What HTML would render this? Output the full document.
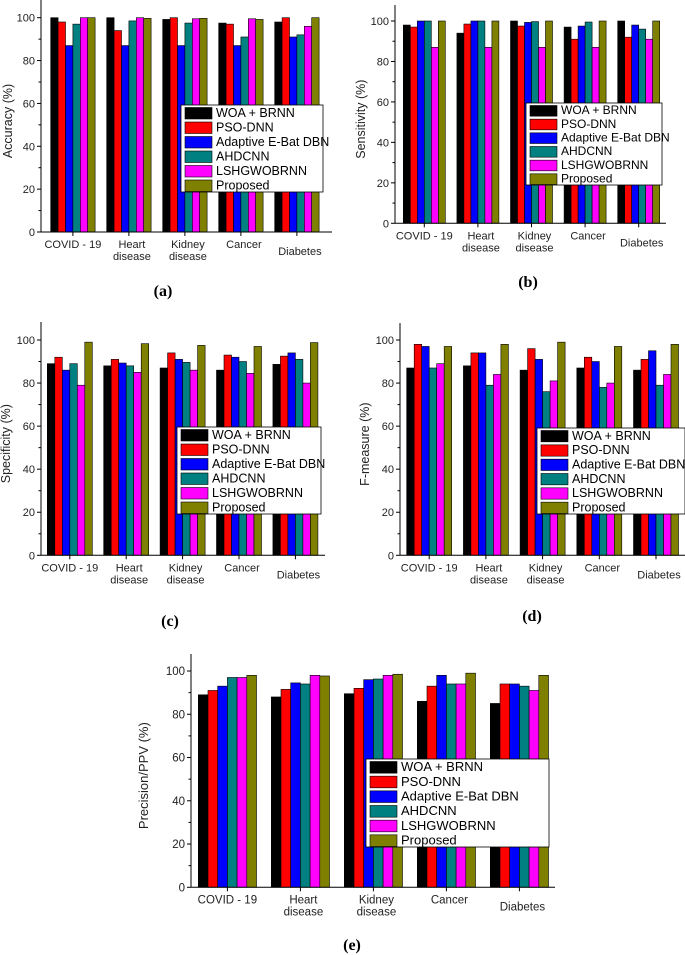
<!DOCTYPE html>
<html><head><meta charset="utf-8"><style>
html,body{margin:0;padding:0;background:#fff;}
svg{display:block;font-family:"Liberation Sans",Arial,sans-serif;}
</style></head><body>
<svg id="fig" width="685" height="955" viewBox="0 0 685 955" xmlns="http://www.w3.org/2000/svg"></svg>
<script>
const categories = ["COVID - 19", "Heart disease", "Kidney disease", "Cancer", "Diabetes"];
const seriesNames = ["WOA + BRNN", "PSO-DNN", "Adaptive E-Bat DBN", "AHDCNN", "LSHGWOBRNN", "Proposed"];
const yTicks = [0, 20, 40, 60, 80, 100];
// values per series (rows) across categories (columns)
const accuracyValues = [
  [100, 100, 99.2, 97.5, 98],
  [98, 94, 100, 97, 100],
  [87, 87, 87, 87, 91],
  [97, 98.5, 97.5, 91, 92],
  [100, 100, 99.5, 99.5, 96],
  [100, 99.7, 99.7, 99.2, 100]
];
const sensitivityValues = [
  [98, 94, 100, 97, 100],
  [97, 98.5, 97.5, 91, 92],
  [100, 100, 99.3, 97.5, 98],
  [100, 100, 99.7, 99.5, 96],
  [87, 87, 87, 87, 91],
  [100, 100, 100, 100, 100]
];
const specificityValues = [
  [89, 88, 87, 86, 88.7],
  [92, 91, 94, 93, 92.5],
  [86, 89.3, 91, 92, 94],
  [89, 88, 89.6, 90, 91],
  [79, 85, 86, 84.5, 80],
  [99, 98.3, 97.5, 97, 98.8]
];
const fmeasureValues = [
  [87, 88, 86, 87, 86],
  [98, 94, 96, 92, 91],
  [97, 94, 91, 90, 95],
  [87, 79, 76, 78, 79],
  [89, 84, 81, 80, 84],
  [97, 98, 99, 97, 98]
];
const precisionValues = [
  [89, 88, 89.5, 86, 85],
  [91, 91.5, 92, 93, 94],
  [93, 94.5, 96, 98, 94],
  [97, 94, 96.3, 94, 93],
  [97, 98, 98, 94, 91],
  [98, 97.7, 98.5, 99, 98]
];
const colors = ["#000000", "#ff0000", "#0000ff", "#008080", "#ff00ff", "#808000"];

const NS = "http://www.w3.org/2000/svg";
const svg = document.getElementById("fig");
function mk(tag, attrs, parent) {
  const e = document.createElementNS(NS, tag);
  for (const k in attrs) e.setAttribute(k, attrs[k]);
  (parent || svg).appendChild(e);
  return e;
}

const panels = [
  {id:"a", data:accuracyValues, ylabel:"Accuracy (%)", ax:41, y0:232, y100:17.7, top:0, right:332, first:50.7, spacing:56, bw:7.4,
   leg:[181,105,142,87], cap:[163,296], fs:11, lfs:12.5, ylx:12},
  {id:"b", data:sensitivityValues, ylabel:"Sensitivity (%)", ax:395, y0:223.3, y100:21, top:5, right:666, first:403.3, spacing:53.6, bw:7,
   leg:[526,103,136,82], cap:[528,287], fs:11, lfs:12, ylx:365},
  {id:"c", data:specificityValues, ylabel:"Specificity (%)", ax:41, y0:555.3, y100:340, top:322, right:325, first:47.3, spacing:56.4, bw:7.5,
   leg:[177,427,144,87], cap:[170,626], fs:11, lfs:12.5, ylx:10},
  {id:"d", data:fmeasureValues, ylabel:"F-measure (%)", ax:400, y0:555.3, y100:340, top:323, right:685, first:406.7, spacing:56.7, bw:7.5,
   leg:[537,428,148,86], cap:[532,621], fs:11, lfs:12.5, ylx:369},
  {id:"e", data:precisionValues, ylabel:"Precision/PPV (%)", ax:191, y0:887.3, y100:671, top:654, right:555, first:198.3, spacing:73, bw:9.7,
   leg:[366,759,183,88], cap:[352,950], fs:11.5, lfs:13, ylx:148}
];

panels.forEach(p => {
  const g = mk("g", {});
  
  
  const y = v => p.y0 - (p.y0 - p.y100) * v / 100;
  const gx = i => p.first + i * p.spacing;
  p.data.forEach((series, s) => {
    series.forEach((v, c) => {
      const r = mk("rect", {x: gx(c) + s * p.bw, y: y(v), width: p.bw, height: p.y0 - y(v),
        fill: colors[s], stroke: "#000", "stroke-width": 0.6}, g);
      
      
    });
  });
  const ya = mk("line", {x1:p.ax, y1:p.top, x2:p.ax, y2:p.y0, stroke:"#000", "stroke-width":1}, g);
  
  
  const xa = mk("line", {x1:p.ax, y1:p.y0, x2:p.right, y2:p.y0, stroke:"#000", "stroke-width":1}, g);
  
  
  for (let v = 0; v <= 100; v += 10) {
    const major = v % 20 === 0;
    mk("line", {x1:p.ax - (major ? 4 : 2.5), y1:y(v), x2:p.ax, y2:y(v), stroke:"#000", "stroke-width":1}, g);
  }
  yTicks.forEach(v => {
    const t = mk("text", {x:p.ax - 6, y:y(v) + 4, "text-anchor":"end", "font-size":p.fs, fill:"#222"}, g);
    t.textContent = v;
    
    
  });
  const yl = mk("text", {x:0, y:0, "text-anchor":"middle", "font-size":p.fs + 1.5, fill:"#222",
    transform:"translate(" + p.ylx + "," + ((p.top + p.y0) / 2 + 5) + ") rotate(-90)"}, g);
  yl.textContent = p.ylabel;
  
  
  categories.forEach((c, i) => {
    const cx = gx(i) + 3 * p.bw;
    mk("line", {x1:cx, y1:p.y0, x2:cx, y2:p.y0 + 4, stroke:"#000", "stroke-width":1}, g);
    const words = c === "Heart disease" || c === "Kidney disease" ? c.split(" ") : [c];
    const dy = c === "Diabetes" ? 7 : 0;
    words.forEach((w, k) => {
      const t = mk("text", {x:cx + (i === 0 ? 0 : 3), y:p.y0 + 16 + dy + k * 12, "text-anchor":"middle", "font-size":p.fs, fill:"#222"}, g);
      t.textContent = w;
      
      
    });
  });
  const [lx, ly, lw, lh] = p.leg;
  const lg = mk("g", {}, g);
  
  
  mk("rect", {x:lx, y:ly, width:lw, height:lh, fill:"#fff", stroke:"#000", "stroke-width":0.8}, lg);
  const rh = lh / 6;
  seriesNames.forEach((n, s) => {
    const e = mk("g", {}, lg);
    
    
    mk("rect", {x:lx + 4, y:ly + 2.5 + s * rh, width:27, height:rh - 3, fill:colors[s], stroke:"#000", "stroke-width":0.6}, e);
    const t = mk("text", {x:lx + 35, y:ly + s * rh + rh - 2.5, "font-size":p.lfs, fill:"#000"}, e);
    t.textContent = n;
  });
  const cap = mk("text", {x:p.cap[0], y:p.cap[1], "text-anchor":"middle", "font-size":16, "font-weight":"bold",
    "font-family":"Liberation Serif, serif", fill:"#000"}, g);
  cap.textContent = "(" + p.id + ")";
  
  
});
</script>
</body></html>
